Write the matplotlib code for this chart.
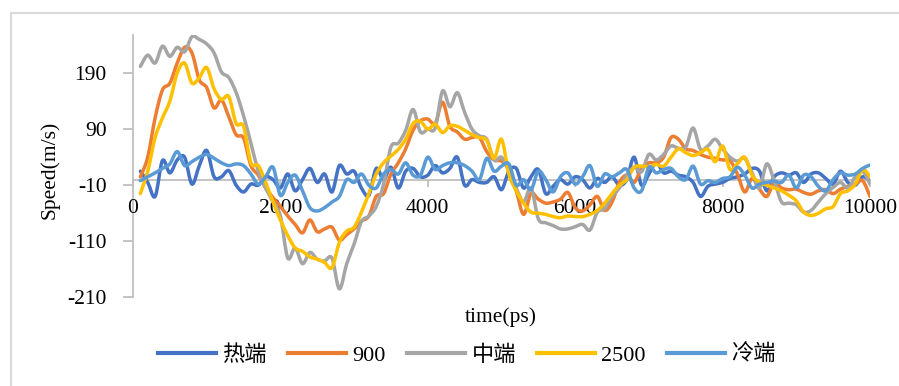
import numpy as np
import matplotlib
matplotlib.use('Agg')
import matplotlib.pyplot as plt
from matplotlib.patches import Rectangle, PathPatch
from matplotlib.path import Path
from matplotlib.lines import Line2D

plt.rcParams['font.family'] = ['Liberation Serif', 'Noto Sans CJK SC']
plt.rcParams['axes.unicode_minus'] = False

# --- 数据 (每 100 ps 一个点) ---
time_ps = np.arange(100, 10001, 100)

hot = [15, -5, -30, 34, 12, 35, 40, -8, 25, 52, 5, 5, 16, -10, -22, -8,
       -10, 5, 0, -15, 10, -20, 0, 20, -5, 10, -22, 25, 10, 15, -15, -28, 20,
       0, 22, -15, 15, 20, 5, 8, 25, 12, 20, 40, -10, 0, -5, -5, 5, -18,
       15, 20, -15, 5, 18, -25, -12, 0, -8, 5, 0, -15, 2, -5, 5, -10, 0,
       40, -10, 10, 30, 12, 15, 8, 5, -5, -30, -12, -8, -5, 2, 5, 10, 20,
       15, -20, 5, 12, 8, 12, -5, 10, 12, 2, -8, 15, -5, -10, 5, -2]

s900 = [5, 40, 110, 160, 172, 208, 236, 226, 178, 164, 128, 142, 112, 80, 74, 25,
        8, -15, -32, -48, -65, -80, -95, -72, -93, -88, -85, -108, -98, -88, -74, -65, -30,
        -25, 10, 30, 55, 88, 105, 108, 100, 138, 95, 85, 72, 75, 75, 50, 35, 33,
        18, -20, -62, -25, -35, -42, -40, -35, -23, -50, -56, -45, -30, -55, -40, -5, 8,
        -5, 20, 30, 30, 40, 75, 72, 55, 52, 45, 40, 38, 35, 34, 10, -22, 2,
        -17, -30, -5, -15, -18, -17, -23, -26, -20, -18, -25, -17, -12, -8, -2, -30]

mid = [202, 222, 208, 238, 220, 236, 228, 255, 250, 242, 226, 192, 182, 155, 114, 65,
       15, -15, -40, -65, -140, -122, -150, -130, -142, -145, -140, -195, -150, -115, -75, -65, -48,
       -8, 58, 65, 88, 125, 85, 90, 92, 158, 130, 155, 120, 90, 78, 72, 35, 40,
       15, -15, -40, -15, -70, -77, -82, -88, -88, -84, -80, -90, -58, -52, -30, -15, 8,
       22, 14, 45, 35, 45, 60, 56, 58, 92, 54, 60, 72, 55, 40, 33, 38, 12,
       -15, 28, -2, -40, -42, -45, -58, -55, -40, -25, -14, -5, -15, 5, 15, -8]

s2500 = [-25, 15, 75, 110, 140, 190, 208, 172, 182, 200, 162, 143, 148, 100, 95, 30,
         25, -5, -40, -72, -100, -122, -128, -138, -142, -148, -157, -112, -92, -85, -58, -25, 10,
         30, 42, 54, 72, 100, 104, 90, 99, 84, 96, 95, 88, 80, 75, 70, 38, 72,
         10, -20, -42, -58, -60, -62, -66, -68, -65, -66, -66, -62, -55, -42, -25, -10, 0,
         22, 24, 23, 27, 24, 40, 55, 48, 43, 48, 54, 32, 60, 18, 28, 40, 8,
         -5, -10, -15, -20, -28, -38, -58, -64, -60, -52, -48, -25, -20, -8, 18, 5]

cold = [-2, 5, 12, 20, 28, 50, 25, 32, 40, 45, 38, 30, 25, 28, 25, 10,
        -8, 5, 22, -28, -5, 8, -20, -50, -56, -50, -40, -30, 0, -5, 10, -10, -15,
        10, 18, 10, 30, 8, 8, 40, 18, 25, 30, 30, 25, 15, 0, 38, 15, 24,
        28, -10, 0, -18, 15, 0, -22, 5, 12, -8, 5, 25, -12, 10, 5, 12, 18,
        -15, -20, 22, 12, 18, 20, 5, 0, 24, -8, -2, -5, 2, 5, 22, 8, -15,
        -8, -5, -3, -5, 8, -15, 8, 5, -12, -20, 0, 12, 8, 10, 20, 26]

series_names = ['热端', '900', '中端', '2500', '冷端']
series_colors = ['#4472C4', '#ED7D31', '#A5A5A5', '#FFC000', '#5B9BD5']
y_ticks = [-210, -110, -10, 90, 190]
x_ticks = [0, 2000, 4000, 6000, 8000, 10000]


def smooth_path(x, y):
    # Excel 式平滑线: 由相邻点决定的三次贝塞尔控制点
    p = np.column_stack([x, y]).astype(float)
    pe = np.vstack([p[0], p, p[-1]])
    verts = [p[0]]
    codes = [Path.MOVETO]
    for i in range(len(p) - 1):
        p0, p1, p2, p3 = pe[i], pe[i + 1], pe[i + 2], pe[i + 3]
        verts += [p1 + (p2 - p0) / 6, p2 - (p3 - p1) / 6, p2]
        codes += [Path.CURVE4] * 3
    return Path(verts, codes)


# --- 绘图 ---
fig = plt.figure(figsize=(8.99, 3.86), dpi=100)
ax = fig.add_axes([133 / 899, 88.7 / 386, 737 / 899, 262.3 / 386])

handles = []
for name, vals, c in zip(series_names, [hot, s900, mid, s2500, cold], series_colors):
    ax.add_patch(PathPatch(smooth_path(time_ps, vals), fill=False, edgecolor=c,
                           lw=2.5, zorder=3, joinstyle='round', capstyle='round'))
    handles.append(Line2D([], [], color=c, lw=3.0, label=name))

ax.set_xlim(0, 10000)
ax.set_ylim(-210, 258)
ax.set_xticks(x_ticks)
ax.set_yticks(y_ticks)

axis_gray = '#BFBFBF'
ax.spines['top'].set_visible(False)
ax.spines['right'].set_visible(False)
ax.spines['bottom'].set_position(('data', 0))
for s in ['bottom', 'left']:
    ax.spines[s].set_color(axis_gray)
    ax.spines[s].set_linewidth(1.3)
    ax.spines[s].set_zorder(1)
ax.tick_params(axis='y', direction='out', length=7, width=1.3, color=axis_gray,
               pad=12, labelsize=15.5)
ax.tick_params(axis='x', direction='out', length=5, width=1.3, color=axis_gray,
               pad=9, labelsize=15.5)

fig.text(50 / 899, 1 - 170 / 386, 'Speed(m/s)', rotation=90, ha='center',
         va='center', fontsize=15.5)
fig.text(501 / 899, 1 - 317 / 386, 'time(ps)', ha='center', va='center',
         fontsize=15.5)

fig.legend(handles=handles, loc='center', bbox_to_anchor=(467 / 899, 1 - 355 / 386),
           ncol=5, frameon=False, handlelength=2.6, columnspacing=0.95,
           handletextpad=0.3, fontsize=16)

# 图表外框
fig.patches.append(Rectangle((10.5 / 899, -0.1), 1.0, 0.1 + 1 - 13 / 386,
                             transform=fig.transFigure, fill=False,
                             edgecolor='#D9D9D9', lw=1.5))

fig.savefig('out.png', dpi=100)
